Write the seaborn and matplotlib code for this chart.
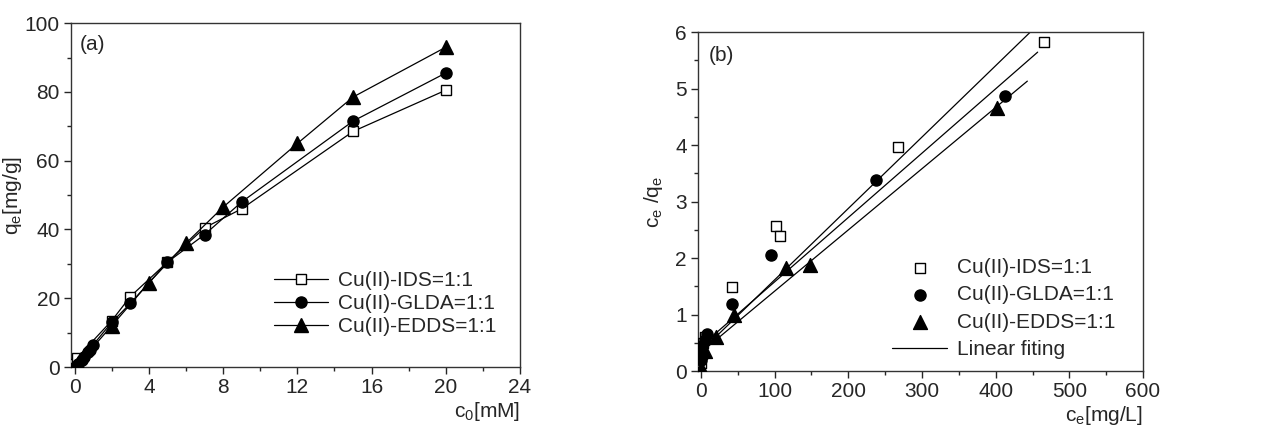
import numpy as np
import pandas as pd
import matplotlib
matplotlib.use("Agg")
import matplotlib.pyplot as plt
from matplotlib.ticker import MultipleLocator
import seaborn as sns

# (a) adsorption capacity vs initial concentration
series = ["Cu(II)-IDS=1:1", "Cu(II)-GLDA=1:1", "Cu(II)-EDDS=1:1"]
a_ids_x = [0, 0.1, 2, 3, 5, 7, 9, 15, 20]
a_ids_y = [1.0, 2.5, 13.5, 20.5, 30.5, 40.5, 46.0, 68.5, 80.5]
a_glda_x = [0, 0.2, 0.4, 0.5, 0.7, 0.8, 1, 2, 3, 5, 7, 9, 15, 20]
a_glda_y = [0.0, 1.0, 2.0, 3.0, 4.5, 5.0, 6.5, 13.0, 18.5, 30.5, 38.5, 48.0, 71.5, 85.5]
a_edds_x = [0, 0.1, 0.2, 2, 4, 6, 8, 12, 15, 20]
a_edds_y = [0.0, 0.5, 1.0, 12.0, 24.5, 36.0, 46.5, 65.0, 78.5, 93.0]

# (b) Langmuir linearisation ce/qe vs ce
b_ids_x = [0, 1, 3, 6, 42, 102, 108, 268, 466]
b_ids_y = [0.15, 0.3, 0.5, 0.6, 1.48, 2.57, 2.39, 3.96, 5.83]
b_glda_x = [0, 0, 2, 5, 8, 42, 95, 238, 413]
b_glda_y = [0.2, 0.3, 0.45, 0.55, 0.65, 1.18, 2.05, 3.39, 4.87]
b_edds_x = [0, 0, 5, 20, 45, 115, 148, 402]
b_edds_y = [0.0, 0.05, 0.35, 0.6, 1.0, 1.82, 1.88, 4.66]

# linear fits
fit_slope = [0.01264, 0.01139, 0.01084]
fit_intercept = [0.35, 0.44, 0.33]
fit_start = [10, 10, 10]
fit_end = [447, 457, 443]

markers = ["s", "o", "^"]
faces = ["white", "black", "black"]
msizes = [7, 8, 10]

sns.set_style("ticks")
plt.rcParams["font.family"] = ["Liberation Sans", "DejaVu Sans"]
plt.rcParams["mathtext.fontset"] = "custom"
plt.rcParams["mathtext.rm"] = "Liberation Sans"
plt.rcParams["mathtext.it"] = "Liberation Sans"
plt.rcParams["xtick.direction"] = "out"
plt.rcParams["ytick.direction"] = "out"
fs = 15

fig = plt.figure(figsize=(12.79, 4.28), dpi=100)
ax1 = fig.add_axes([0.0555, 0.1425, 0.3511, 0.8035])
ax2 = fig.add_axes([0.5457, 0.133, 0.348, 0.792])

a_data = [(a_ids_x, a_ids_y), (a_glda_x, a_glda_y), (a_edds_x, a_edds_y)]
for (xs, ys), name, m, fc, ms in zip(a_data, series, markers, faces, msizes):
    df = pd.DataFrame({"x": xs, "y": ys})
    sns.lineplot(data=df, x="x", y="y", ax=ax1, color="black", lw=0.9,
                 marker=m, markersize=ms, markerfacecolor=fc,
                 markeredgecolor="black", markeredgewidth=1.0, label=name,
                 sort=False, zorder=3)

ax1.set_xlim(-0.2, 24)
ax1.set_ylim(0, 100)
ax1.xaxis.set_major_locator(MultipleLocator(4))
ax1.xaxis.set_minor_locator(MultipleLocator(2))
ax1.yaxis.set_major_locator(MultipleLocator(20))
ax1.yaxis.set_minor_locator(MultipleLocator(10))
ax1.set_xlabel("c$_0$[mM]", fontsize=fs, loc="right", labelpad=2)
ax1.set_ylabel("q$_e$[mg/g]", fontsize=fs)
ax1.yaxis.set_label_coords(-0.105, 0.5)
ax1.text(0.02, 0.965, "(a)", transform=ax1.transAxes, fontsize=fs,
         va="top", ha="left")
ax1.legend(loc="lower right", bbox_to_anchor=(0.99, 0.035), frameon=False,
           fontsize=fs, handlelength=2.6, handletextpad=0.5, labelspacing=0.2)

b_data = [(b_ids_x, b_ids_y), (b_glda_x, b_glda_y), (b_edds_x, b_edds_y)]
for (xs, ys), name, m, fc, ms in zip(b_data, series, markers, faces, msizes):
    df = pd.DataFrame({"x": xs, "y": ys})
    sns.scatterplot(data=df, x="x", y="y", ax=ax2, marker=m, s=ms ** 2,
                    facecolor=fc, edgecolor="black", linewidth=1.0,
                    label=name, zorder=3)

for k in range(3):
    fx = np.array([fit_start[k], fit_end[k]])
    fy = fit_intercept[k] + fit_slope[k] * fx
    sns.lineplot(x=fx, y=fy, ax=ax2, color="black", lw=0.9,
                 label="Linear fiting" if k == 0 else None, zorder=2)

ax2.set_xlim(-4, 600)
ax2.set_ylim(0, 6)
ax2.xaxis.set_major_locator(MultipleLocator(100))
ax2.xaxis.set_minor_locator(MultipleLocator(50))
ax2.yaxis.set_major_locator(MultipleLocator(1))
ax2.yaxis.set_minor_locator(MultipleLocator(0.5))
ax2.set_xlabel("c$_e$[mg/L]", fontsize=fs, loc="right", labelpad=2)
ax2.set_ylabel("c$_e$ /q$_e$", fontsize=fs)
ax2.yaxis.set_label_coords(-0.075, 0.5)
ax2.text(0.025, 0.96, "(b)", transform=ax2.transAxes, fontsize=fs,
         va="top", ha="left")
h, l = ax2.get_legend_handles_labels()
ax2.legend(h, l, loc="lower right", bbox_to_anchor=(0.98, -0.02), frameon=False,
           fontsize=fs, handlelength=2.6, handletextpad=0.5, labelspacing=0.4)

for ax in (ax1, ax2):
    for s in ax.spines.values():
        s.set_linewidth(1.0)
        s.set_color("#333333")
    ax.tick_params(which="major", length=5, width=1.0, labelsize=fs, pad=3)
    ax.tick_params(which="minor", length=3, width=1.0)

fig.savefig("out.png", dpi=100)
